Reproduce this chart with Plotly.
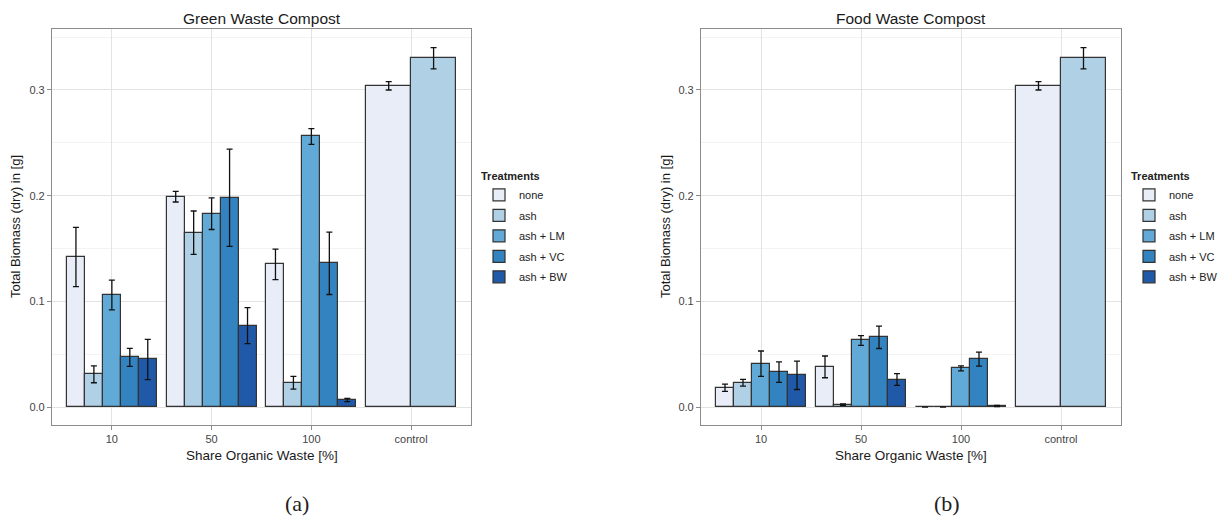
import plotly.graph_objects as go

categories = ["10", "50", "100", "control"]
treatments = ["none", "ash", "ash + LM", "ash + VC", "ash + BW"]
colors = ["#E8EDF7", "#B0D1E5", "#61AAD7", "#3383C0", "#2059A8"]

# Green Waste Compost: means and error half-widths
green_none = [0.142, 0.199, 0.135, 0.304]
green_none_err = [0.028, 0.005, 0.0145, 0.004]
green_ash = [0.031, 0.165, 0.023, 0.330]
green_ash_err = [0.008, 0.0205, 0.006, 0.010]
green_lm = [0.106, 0.183, 0.256]
green_lm_err = [0.014, 0.015, 0.0075]
green_vc = [0.047, 0.198, 0.136]
green_vc_err = [0.0085, 0.046, 0.0295]
green_bw = [0.045, 0.077, 0.0066]
green_bw_err = [0.019, 0.017, 0.0015]

# Food Waste Compost
food_none = [0.0183, 0.038, 0.0, 0.304]
food_none_err = [0.0034, 0.0103, 0.0, 0.004]
food_ash = [0.023, 0.0022, 0.0, 0.330]
food_ash_err = [0.0032, 0.0007, 0.0, 0.010]
food_lm = [0.041, 0.063, 0.0366]
food_lm_err = [0.012, 0.0046, 0.0023]
food_vc = [0.033, 0.066, 0.0454]
food_vc_err = [0.0097, 0.0106, 0.0066]
food_bw = [0.030, 0.026, 0.001]
food_bw_err = [0.0134, 0.0056, 0.0005]

green = [(green_none, green_none_err), (green_ash, green_ash_err), (green_lm, green_lm_err),
         (green_vc, green_vc_err), (green_bw, green_bw_err)]
food = [(food_none, food_none_err), (food_ash, food_ash_err), (food_lm, food_lm_err),
        (food_vc, food_vc_err), (food_bw, food_bw_err)]

DODGE = 0.9
fig = go.Figure()

for panel, (data, xref, yref, leg) in enumerate([(green, "x", "y", "legend"), (food, "x2", "y2", "legend2")]):
    for i, (vals, errs) in enumerate(data):
        xs = categories[:len(vals)]
        offsets, widths = [], []
        for c in xs:
            n = 2 if c == "control" else 5
            w = DODGE / n
            offsets.append(-DODGE / 2 + i * w)
            widths.append(w)
        fig.add_trace(go.Bar(
            x=xs, y=vals, xaxis=xref, yaxis=yref,
            name=treatments[i], legend=leg, legendgroup=f"{leg}{i}",
            offset=offsets, width=widths,
            marker=dict(color=colors[i], line=dict(color="#333333", width=1.2)),
            error_y=dict(type="data", array=errs, visible=True, color="#111111",
                         thickness=1.3, width=3),
            showlegend=True,
        ))

axis_common = dict(
    showline=True, mirror=True, linecolor="#8C8C8C", linewidth=1.2,
    ticks="outside", ticklen=4, tickcolor="#8C8C8C", tickwidth=1.2,
    tickfont=dict(family="Liberation Sans, Arial", size=11, color="#444444"),
    showgrid=True, gridcolor="#E3E3E3", gridwidth=1, zeroline=False,
)

yaxis_common = dict(axis_common, range=[-0.017, 0.3577], tickvals=[0.0, 0.1, 0.2, 0.3],
                    ticktext=["0.0", "0.1", "0.2", "0.3"],
                    minor=dict(showgrid=True, gridcolor="#F3F3F3", tickvals=[0.05, 0.15, 0.25, 0.35],
                               ticks=""))
xaxis_common = dict(axis_common, type="category", categoryorder="array",
                    categoryarray=categories, range=[-0.6, 3.6])

W, H = 1221, 517
def px_x(p):
    return p / W
def px_y(p):
    return 1 - p / H

legend_common = dict(xanchor="left", yanchor="top",
                     title=dict(text="<b>Treatments</b>", font=dict(size=11, color="#222")),
                     font=dict(family="Liberation Sans, Arial", size=11, color="#222"),
                     tracegroupgap=1.5, itemwidth=30, bgcolor="rgba(0,0,0,0)")

dom_y = [px_y(425), px_y(29)]
fig.update_layout(
    width=W, height=H, margin=dict(l=0, r=0, t=0, b=0, autoexpand=False),
    paper_bgcolor="white", plot_bgcolor="white",
    barmode="overlay", bargap=0,
    xaxis=dict(xaxis_common, domain=[px_x(52), px_x(471)], anchor="y"),
    yaxis=dict(yaxis_common, domain=dom_y, anchor="x"),
    xaxis2=dict(xaxis_common, domain=[px_x(701), px_x(1121)], anchor="y2"),
    yaxis2=dict(yaxis_common, domain=dom_y, anchor="x2"),
    legend=dict(legend_common, x=px_x(479), y=px_y(166)),
    legend2=dict(legend_common, x=px_x(1129), y=px_y(166)),
    font=dict(family="Liberation Sans, Arial", color="#222"),
)

ann = []
for (cx, title, ytx) in [((52 + 471) / 2, "Green Waste Compost", 16),
                          ((701 + 1121) / 2, "Food Waste Compost", 666)]:
    ann.append(dict(x=px_x(cx), y=px_y(18), xref="paper", yref="paper", text=title,
                    showarrow=False, font=dict(size=15.5, color="#1a1a1a"),
                    xanchor="center", yanchor="middle"))
    ann.append(dict(x=px_x(cx), y=px_y(455), xref="paper", yref="paper", text="Share Organic Waste [%]",
                    showarrow=False, font=dict(size=13.5, color="#1a1a1a"),
                    xanchor="center", yanchor="middle"))
    ann.append(dict(x=px_x(ytx), y=px_y(227), xref="paper", yref="paper", text="Total Biomass (dry) in [g]",
                    showarrow=False, textangle=-90, font=dict(size=13, color="#1a1a1a"),
                    xanchor="center", yanchor="middle"))
for cx, cap in [(297, "(a)"), (947, "(b)")]:
    ann.append(dict(x=px_x(cx), y=px_y(503), xref="paper", yref="paper", text=cap, showarrow=False,
                    font=dict(family="Liberation Serif, DejaVu Serif", size=22, color="#222"),
                    xanchor="center", yanchor="middle"))
fig.update_layout(annotations=ann)

fig.write_html("out.html")
